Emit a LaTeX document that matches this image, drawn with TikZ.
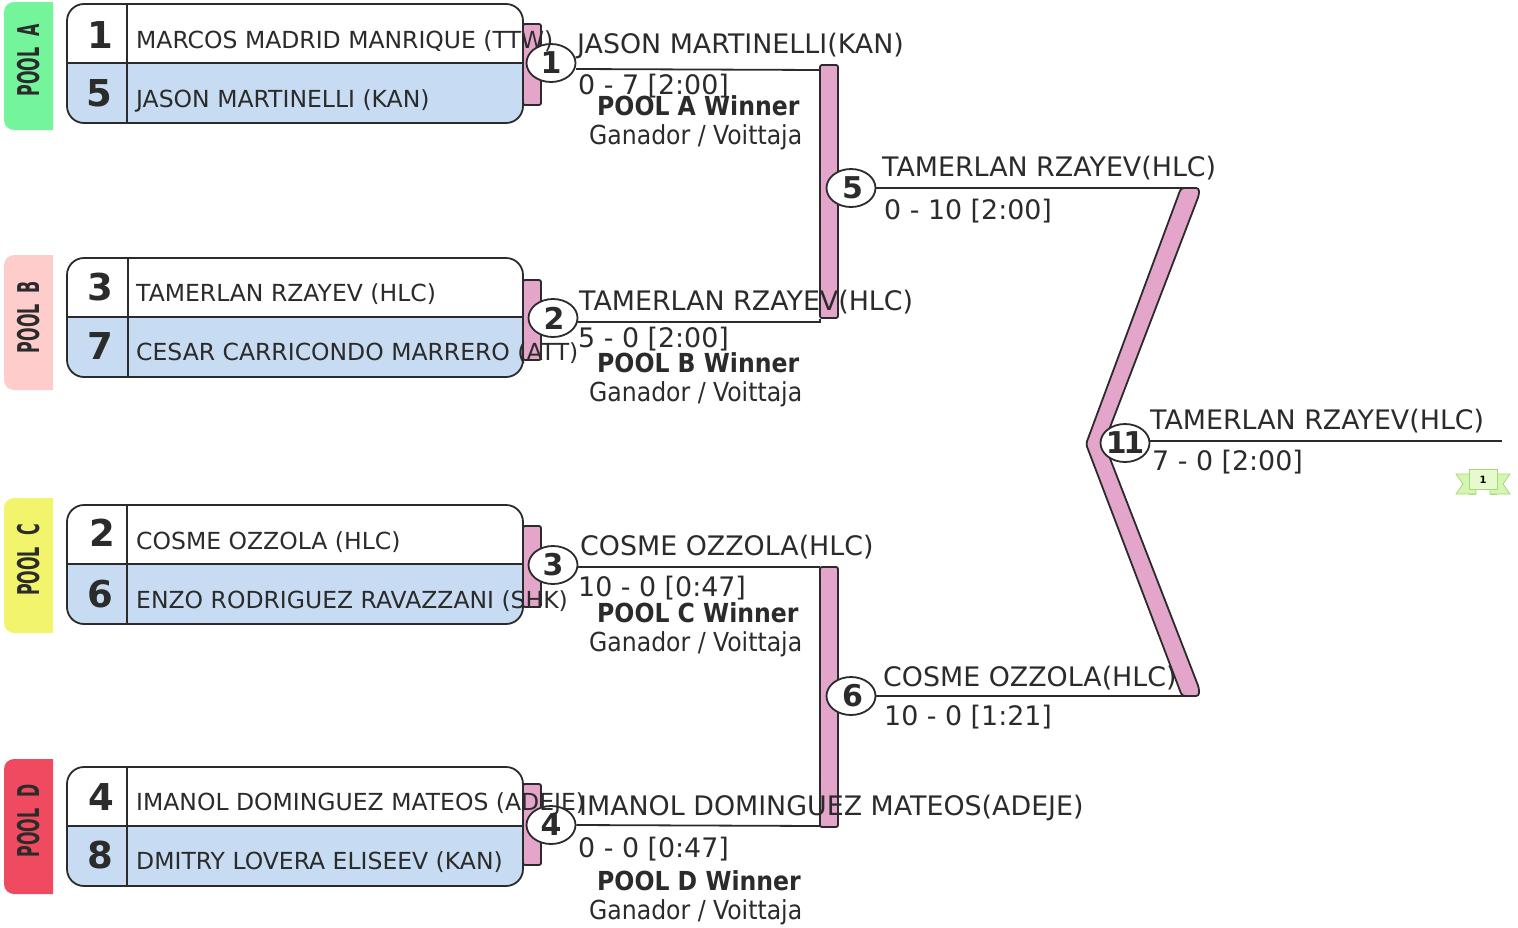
\documentclass[tikz,border=0pt]{standalone}
\usepackage{fontspec}
\setmainfont{DejaVu Sans}
\newfontfamily\condfont{DejaVu Sans Condensed}
\newfontfamily\tabfont[FakeStretch=0.59]{DejaVu Sans Condensed}
\usetikzlibrary{calc,positioning,shapes.geometric}
\definecolor{ink}{HTML}{2B2B2B}
\definecolor{barpink}{HTML}{E4A5CB}
\definecolor{rowblue}{HTML}{C7DCF2}
\definecolor{tabA}{HTML}{74F59C}
\definecolor{tabB}{HTML}{FFCCCC}
\definecolor{tabC}{HTML}{F2F56C}
\definecolor{tabD}{HTML}{EF4A60}
\definecolor{ribbon}{HTML}{D6F5B0}
\definecolor{ribbontop}{HTML}{E6FACD}
\definecolor{ribbonedge}{HTML}{A5D67A}
\tikzset{
    namelabel/.style={anchor=base west,inner sep=0pt,text=ink,font=\fontsize{23.5}{28}\selectfont},
    seedlabel/.style={anchor=base,inner sep=0pt,text=ink,font=\fontsize{37}{44}\selectfont\bfseries},
    winlabel/.style={anchor=base west,inner sep=0pt,text=ink,font=\fontsize{26.85}{32}\selectfont},
    poollabel/.style={anchor=base west,inner sep=0pt,text=ink,font=\fontsize{26.2}{32}\selectfont\condfont\bfseries},
    subpool/.style={anchor=base west,inner sep=0pt,text=ink,font=\fontsize{26.2}{32}\selectfont\condfont},
    tablabel/.style={rotate=90,inner sep=0pt,text=ink,font=\fontsize{30}{34}\selectfont\tabfont\bfseries},
    matchnode/.style={draw=ink,line width=1.8pt,fill=white,ellipse,minimum width=49pt,minimum height=38pt,
        inner sep=0pt,text=ink,font=\fontsize{30}{34}\selectfont\bfseries},
    pinkbar/.style={draw=ink,line width=1.8pt,fill=barpink,rounded corners=2pt,inner sep=0pt},
    wire/.style={draw=ink,line width=1.8pt}
}
\begin{document}
\begin{tikzpicture}[x=1pt,y=-1pt]
    \useasboundingbox (0,0) rectangle (1518,927);

    % pool tabs, boxes and bars
    \foreach \p/\tabtop/\tabbot/\boxtop/\bartop/\barbot/\vx in {
        A/2/130/4/24/105/127, B/255/390/258/280/360/128,
        C/498/633/505/526/607/127, D/759/894/767/784/865/127} {
        \fill[tab\p,rounded corners=10pt] (53,\tabtop) -- (4,\tabtop) -- (4,\tabbot) -- (53,\tabbot);
        \fill[tab\p] (40,\tabtop) rectangle (53,\tabbot);
        \node[tablabel] (tab\p) at (29,{(\tabtop+\tabbot)/2-5.5}) {POOL\ \ \p};
        \node[pinkbar,minimum width=18pt,minimum height={\barbot-\bartop}] (bar\p)
            at (532,{(\bartop+\barbot)/2}) {};
        \begin{scope}
            \clip[rounded corners=17pt] (67,\boxtop) rectangle (523,\boxtop+119);
            \fill[rowblue] (67,\boxtop+59) rectangle (523,\boxtop+119);
            \fill[white] (67,\boxtop) rectangle (523,\boxtop+59);
        \end{scope}
        \draw[ink,line width=1.8pt,rounded corners=17pt] (67,\boxtop) rectangle (523,\boxtop+119);
        \draw[ink,line width=1.8pt] (67,\boxtop+59) -- (523,\boxtop+59);
        \draw[ink,line width=1.8pt] (\vx,\boxtop) -- (\vx,\boxtop+119);
    }

    % round two bars and the final chevron
    \node[pinkbar,minimum width=18pt,minimum height=253pt] (bar5) at (829,191.5) {};
    \node[pinkbar,minimum width=18pt,minimum height=260pt] (bar6) at (829,697) {};
    \draw[draw=ink,line width=1.8pt,fill=barpink,rounded corners=3pt]
        (1181,188) -- (1199,188) -- (1199,195) -- (1104,443) -- (1199,688) -- (1199,696)
        -- (1182,696) -- (1086,444) -- cycle;

    % match nodes
    \node[matchnode] (m1) at (551,63) {1};
    \node[matchnode] (m2) at (553,318) {\makebox[0pt]{\hspace*{2pt}2}};
    \node[matchnode] (m3) at (553,565) {3};
    \node[matchnode] (m4) at (551,825) {4};
    \node[matchnode] (m5) at (851,188) {\makebox[0pt]{\hspace*{3pt}5}};
    \node[matchnode] (m6) at (851,696) {\makebox[0pt]{\hspace*{3pt}6}};
    \node[matchnode] (m11) at (1125,443) {\makebox[0pt]{1\kern-3.5pt 1}};

    \coordinate (e1) at (820,70);
    \coordinate (e2) at (820,322);
    \coordinate (e3) at (820,567);
    \coordinate (e4) at (820,826);
    \coordinate (e5) at (1185,188);
    \coordinate (e6) at (1185,696);
    \coordinate (e11) at (1502,441);
    \draw[wire] (m1) ++(25,6) -- (e1);
    \draw[wire] (m2) ++(25,4) -- (e2) -- (e2 |- bar5.south);
    \draw[wire] (m3) ++(24,2) -- (e3);
    \draw[wire] (m4.east) -- (e4);
    \draw[wire] (m5.east) -- (e5);
    \draw[wire] (m6.east) -- (e6);
    \draw[wire] (m11.east) ++(0,-2) -- (e11);

    % seeds and names
    \foreach \n/\seed/\sx/\base in {
        a/1/100/48, b/5/99/106, c/3/100/300, d/7/100/359,
        e/2/102/546, f/6/100/607, g/4/101/810, h/8/100/868} {
        \node[seedlabel] (seed\n) at (\sx,\base) {\seed};
    }
    \foreach \n/\base/\who in {
        a/48/MARCOS MADRID MANRIQUE (TTW),
        b/107/JASON MARTINELLI (KAN),
        c/301/TAMERLAN RZAYEV (HLC),
        d/360/CESAR CARRICONDO MARRERO (ATT),
        e/549/COSME OZZOLA (HLC),
        f/608/ENZO RODRIGUEZ RAVAZZANI (SHK),
        g/810/IMANOL DOMINGUEZ MATEOS (ADEJE),
        h/869/DMITRY LOVERA ELISEEV (KAN)} {
        \node[namelabel] (name\n) at (136,\base) {\who};
    }
    % winners and scores
    \foreach \n/\x/\y/\xs/\ys/\who/\score in {
        1/577/53/578/94/JASON MARTINELLI(KAN)/0 - 7 [2:00],
        2/579/310/578/347/TAMERLAN RZAYEV(HLC)/5 - 0 [2:00],
        3/580/555/578/596/COSME OZZOLA(HLC)/10 - 0 [0:47],
        4/579/815/578/857/IMANOL DOMINGUEZ MATEOS(ADEJE)/0 - 0 [0:47],
        5/882/176/884/219/TAMERLAN RZAYEV(HLC)/0 - 10 [2:00],
        6/883/686/884/725/COSME OZZOLA(HLC)/10 - 0 [1:21],
        11/1150/429/1152/470/TAMERLAN RZAYEV(HLC)/7 - 0 [2:00]} {
        \node[winlabel] (win\n) at (\x,\y) {\who};
        \node[winlabel] (score\n) at (\xs,\ys) {\score};
    }
    \foreach \p/\y in {A/115, B/372, C/622, D/890} {
        \node[poollabel] (wp\p) at (597,\y) {POOL \p\ Winner};
        \node[subpool] (gp\p) at (589,\y+29) {Ganador / Voittaja};
    }

    % medal ribbon
    \fill[ribbonedge] (1469,489) rectangle (1476,495);
    \fill[ribbonedge] (1490,489) rectangle (1497,495);
    \draw[ribbonedge,fill=ribbon,line width=.8pt] (1456,474) -- (1476,474) -- (1476,494) -- (1456,494) -- (1463,484) -- cycle;
    \draw[ribbonedge,fill=ribbon,line width=.8pt] (1510,474) -- (1490,474) -- (1490,494) -- (1510,494) -- (1503,484) -- cycle;
    \node[draw=ribbonedge,fill=ribbontop,line width=.8pt,minimum width=28pt,minimum height=20pt,inner sep=0pt,
        font=\fontsize{10}{11}\selectfont\bfseries] (medal) at (1483,479.5) {1};
\end{tikzpicture}
\end{document}
